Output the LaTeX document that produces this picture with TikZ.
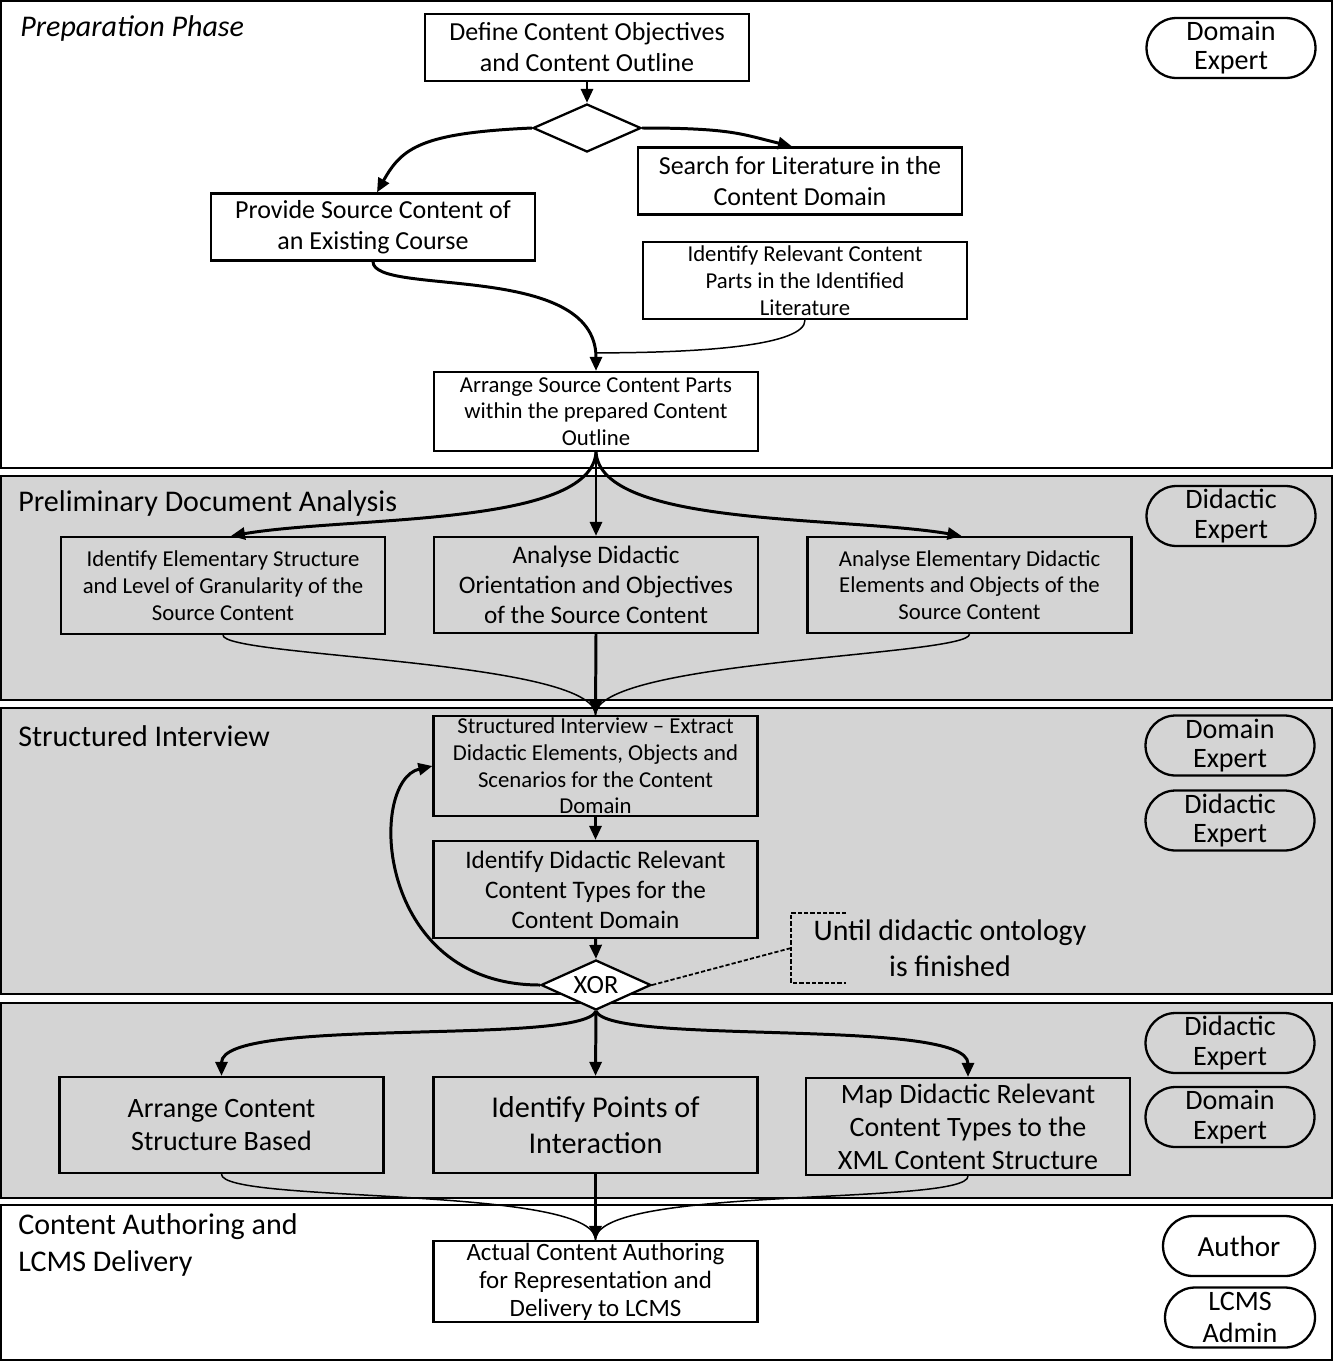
\documentclass[tikz,border=0pt]{standalone}
\usepackage{fontspec}
\setmainfont{Carlito}
\usepackage{tikz}
\usetikzlibrary{shapes.geometric, arrows.meta, positioning}
\definecolor{lanegray}{RGB}{212,212,212}

\begin{document}
\begin{tikzpicture}[
    x=0.02cm, y=-0.02cm,
    lane/.style={draw, line width=1.3pt},
    task/.style={rectangle, draw, line width=1.3pt, minimum width=6.48cm, minimum height=1.34cm, align=center, inner sep=1pt, font=\fontsize{14.8}{17.6}\selectfont}, % process boxes
    fsmall/.style={font=\fontsize{12.95}{15.2}\selectfont},
    fmid/.style={font=\fontsize{14.35}{17}\selectfont},
    flarge/.style={font=\fontsize{15.95}{18.8}\selectfont},
    fhuge/.style={font=\fontsize{17.2}{20.2}\selectfont},
    role/.style={rectangle, draw, line width=1.3pt, rounded corners=0.6cm, minimum width=3.38cm, minimum height=1.2cm, align=center, inner sep=1pt, font=\fontsize{16}{16.6}\selectfont},
    gate/.style={diamond, draw, fill=white, line width=1.3pt, aspect=2.2, inner sep=0pt, minimum width=2.16cm, minimum height=0.96cm, font=\fontsize{15}{18}\selectfont},
    title/.style={anchor=west, align=left, inner sep=0pt, font=\fontsize{17.1}{21}\selectfont},
    note/.style={align=center, inner xsep=0.44cm, inner ysep=0pt, minimum height=1.38cm, font=\fontsize{17}{20.5}\selectfont},
    flow/.style={-{Triangle[length=0.28cm, width=0.24cm]}, line width=1.7pt},
    merge/.style={line width=0.85pt},
    hint/.style={line width=1pt, dash pattern=on 2.4pt off 1.2pt}
]
\useasboundingbox (0,0) rectangle (1334,1363);

% Lanes
\draw[lane] (1,1) rectangle (1332,468);
\filldraw[lane, fill=lanegray] (1,476) rectangle (1332,700);
\filldraw[lane, fill=lanegray] (1,708) rectangle (1332,994);
\filldraw[lane, fill=lanegray] (1,1003) rectangle (1332,1198);
\draw[lane] (1,1205) rectangle (1332,1360);

% Lane titles
\node[title, font=\fontsize{17.1}{21}\selectfont\itshape] (prep) at (20,28) {Preparation Phase};
\node[title] (prelim) at (18,503) {Preliminary Document Analysis};
\node[title] (inter) at (18,736) {Structured Interview};
\node[title] (deliv) at (18,1245) {Content Authoring and\\LCMS Delivery};

% Preparation Phase
\node[task] (define) at (587,47.5) {Define Content Objectives\\and Content Outline};
\node[gate] (choice) at (587,128) {};
\node[task] (search) at (800,181) {Search for Literature in the\\Content Domain};
\node[task] (provide) at (373,227) {Provide Source Content of\\an Existing Course};
\node[task, fsmall, minimum height=1.54cm] (relevant) at (805,280.5) {Identify Relevant Content\\Parts in the Identified\\Literature};
\node[task, fsmall, minimum height=1.58cm] (outline) at (596,411.5) {Arrange Source Content Parts\\within the prepared Content\\Outline};
\node[role] (domex1) at (1231,48) {Domain\\Expert};

% Preliminary Document Analysis
\node[task, fsmall, minimum height=1.94cm] (granular) at (223,585.5) {Identify Elementary Structure\\and Level of Granularity of the\\Source Content};
\node[task, fmid, minimum height=1.92cm] (orient) at (596,585) {Analyse Didactic\\Orientation and Objectives\\of the Source Content};
\node[task, fsmall, minimum height=1.92cm] (elements) at (969.5,585) {Analyse Elementary Didactic\\Elements and Objects of the\\Source Content};
\node[role] (didex1) at (1231,516) {Didactic\\Expert};

% Structured Interview
\node[task, fsmall, minimum height=2cm] (interview) at (595.5,766) {Structured Interview -- Extract\\Didactic Elements, Objects and\\Scenarios for the Content\\Domain};
\node[task, fmid, minimum height=1.94cm] (types) at (595.5,889.5) {Identify Didactic Relevant\\Content Types for the\\Content Domain};
\node[gate, minimum width=2.2cm, minimum height=1cm] (xor) at (596,985) {XOR};
\node[note] (until) at (950,948) {Until didactic ontology\\is finished};
\node[role] (domex2) at (1230,745.5) {Domain\\Expert};
\node[role] (didex2) at (1230,820.5) {Didactic\\Expert};

% Mapping lane
\node[task, flarge, minimum height=1.92cm] (structure) at (221.5,1125) {Arrange Content\\Structure Based};
\node[task, fhuge, minimum height=1.92cm] (points) at (595.5,1125) {Identify Points of\\Interaction};
\node[task, flarge, minimum height=1.94cm] (xmlmap) at (968,1126.5) {Map Didactic Relevant\\Content Types to the\\XML Content Structure};
\node[role] (didex3) at (1230,1043) {Didactic\\Expert};
\node[role] (domex3) at (1230,1117) {Domain\\Expert};

% Content Authoring and LCMS Delivery
\node[task, font=\fontsize{14.2}{16}\selectfont, minimum height=1.62cm] (authoring) at (595.5,1281.5) {Actual Content Authoring\\for Representation and\\Delivery to LCMS};
\node[role, minimum width=3.04cm, font=\fontsize{16.6}{18}\selectfont] (author) at (1239,1246) {Author};
\node[role, minimum width=3.0cm, font=\fontsize{16}{18.6}\selectfont] (admin) at (1240,1317.5) {LCMS\\Admin};

% Connections in the preparation phase
\draw[flow] (define.south) -- (choice.north);
\draw[flow] (choice.west) .. controls +(-110,5) and +(25,-45) .. ([xshift=0.08cm]provide.north);
\draw[flow] (choice.east) .. controls +(90,0) and +(-50,-12) .. ([xshift=-0.16cm]search.north);
\draw[flow] (provide.south) .. controls +(0,35) and +(0,-110) .. (outline.north);
\draw[merge] (relevant.south) .. controls +(0,25) and +(110,0) .. ([yshift=0.36cm]outline.north);

% outline to analysis tasks
\draw[flow] (outline.south) .. controls +(-5,75) and +(120,-20) .. ([xshift=0.16cm]granular.north);
\draw[flow] (outline.south) -- (orient.north);
\draw[flow] (outline.south) .. controls +(5,75) and +(-120,-20) .. ([xshift=-0.16cm]elements.north);

% analysis tasks to interview
\draw[merge] (granular.south) .. controls +(0,22) and +(0,-55) .. (interview.north);
\draw[flow] (orient.south) -- (interview.north);
\draw[merge] (elements.south) .. controls +(0,22) and +(0,-55) .. (interview.north);

% interview loop
\draw[flow] (interview.south) -- (types.north);
\draw[flow] (types.south) -- (xor.north);
\draw[flow] (xor.west) .. controls +(-165,0) and +(-65,15) .. (interview.west);
\draw[hint] (xor.east) -- (until.west);
\draw[hint] ([xshift=1.1cm]until.north west) -- (until.north west) -- (until.south west) -- ([xshift=1.1cm]until.south west);

% xor to mapping tasks
\draw[flow] (xor.south) .. controls +(-15,35) and +(0,-60) .. (structure.north);
\draw[flow] (xor.south) -- (points.north);
\draw[flow] (xor.south) .. controls +(15,35) and +(0,-60) .. (xmlmap.north);

% mapping tasks to authoring
\draw[merge] (structure.south) .. controls +(0,30) and +(0,-55) .. (authoring.north);
\draw[flow] (points.south) -- (authoring.north);
\draw[merge] (xmlmap.south) .. controls +(0,30) and +(0,-55) .. (authoring.north);

\end{tikzpicture}
\end{document}
